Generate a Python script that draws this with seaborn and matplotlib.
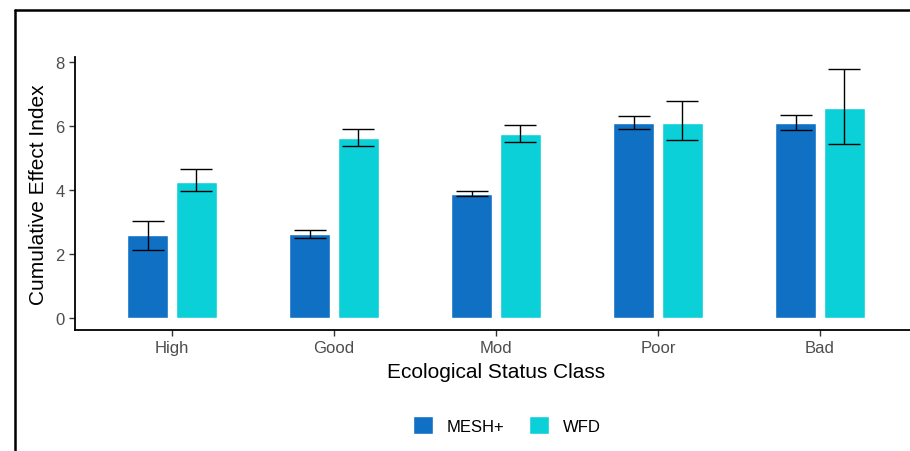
import pandas as pd
import numpy as np
import matplotlib.pyplot as plt
import seaborn as sns

# values
classes = ['High', 'Good', 'Mod', 'Poor', 'Bad']
mesh_mean = [2.57, 2.62, 3.86, 6.10, 6.10]
mesh_lo = [2.13, 2.49, 3.80, 5.92, 5.86]
mesh_hi = [3.03, 2.75, 3.95, 6.31, 6.33]
wfd_mean = [4.26, 5.62, 5.74, 6.10, 6.55]
wfd_lo = [3.95, 5.37, 5.49, 5.55, 5.42]
wfd_hi = [4.64, 5.89, 6.03, 6.77, 7.77]
methods = ['MESH+', 'WFD']
colors = ['#1070C4', '#0CD0D8']

df = pd.DataFrame({
    'cls': classes * 2,
    'method': ['MESH+'] * 5 + ['WFD'] * 5,
    'value': mesh_mean + wfd_mean,
    'lo': mesh_lo + wfd_lo,
    'hi': mesh_hi + wfd_hi,
})

sns.set_style('ticks')
plt.rcParams['font.family'] = ['Liberation Sans', 'DejaVu Sans']

fig = plt.figure(figsize=(9.1, 4.52), dpi=100)
ax = fig.add_axes([75 / 910, 1 - 331 / 452, 842 / 910, 273 / 452])

sns.barplot(data=df, x='cls', y='value', hue='method', order=classes,
            hue_order=methods, palette=colors, width=0.6, gap=0.16,
            errorbar=None, saturation=1, ax=ax)

# error bars on top of each bar
for k, m in enumerate(methods):
    sub = df[df['method'] == m]
    xs = [b.get_x() + b.get_width() / 2 for b in ax.containers[k]]
    yerr = [sub['value'] - sub['lo'], sub['hi'] - sub['value']]
    ax.errorbar(xs, sub['value'], yerr=yerr, fmt='none', ecolor='black',
                elinewidth=1.0, capsize=11.5, capthick=1.0)

ax.set_ylim(-0.39, 8.16)
ax.set_xlim(-0.6, 4.6)
ax.set_yticks([0, 2, 4, 6, 8])
ax.set_xlabel('Ecological Status Class', fontsize=15, color='black', labelpad=5)
ax.set_ylabel('Cumulative Effect Index', fontsize=15, color='black', labelpad=5)
ax.tick_params(axis='both', labelsize=12, colors='#333333', labelcolor='#4D4D4D',
               length=4, width=1)
sns.despine(ax=ax)
for s in ['left', 'bottom']:
    ax.spines[s].set_linewidth(1.3)
    ax.spines[s].set_color('black')

sns.move_legend(ax, 'center', bbox_to_anchor=(507 / 910, 1 - 426 / 452),
                bbox_transform=fig.transFigure, ncol=2, title=None,
                frameon=False, fontsize=12, handlelength=1.2, handleheight=1.2,
                columnspacing=1.5, handletextpad=0.8, labelcolor='black')

# outer frame (top and left edges visible in the crop)
fig.add_artist(plt.Line2D([15 / 910, 1.0], [1 - 11 / 452, 1 - 11 / 452],
                          color='black', lw=1.8, transform=fig.transFigure))
fig.add_artist(plt.Line2D([15 / 910, 15 / 910], [0.0, 1 - 11 / 452],
                          color='black', lw=1.8, transform=fig.transFigure))

fig.savefig('out.png', dpi=100)
